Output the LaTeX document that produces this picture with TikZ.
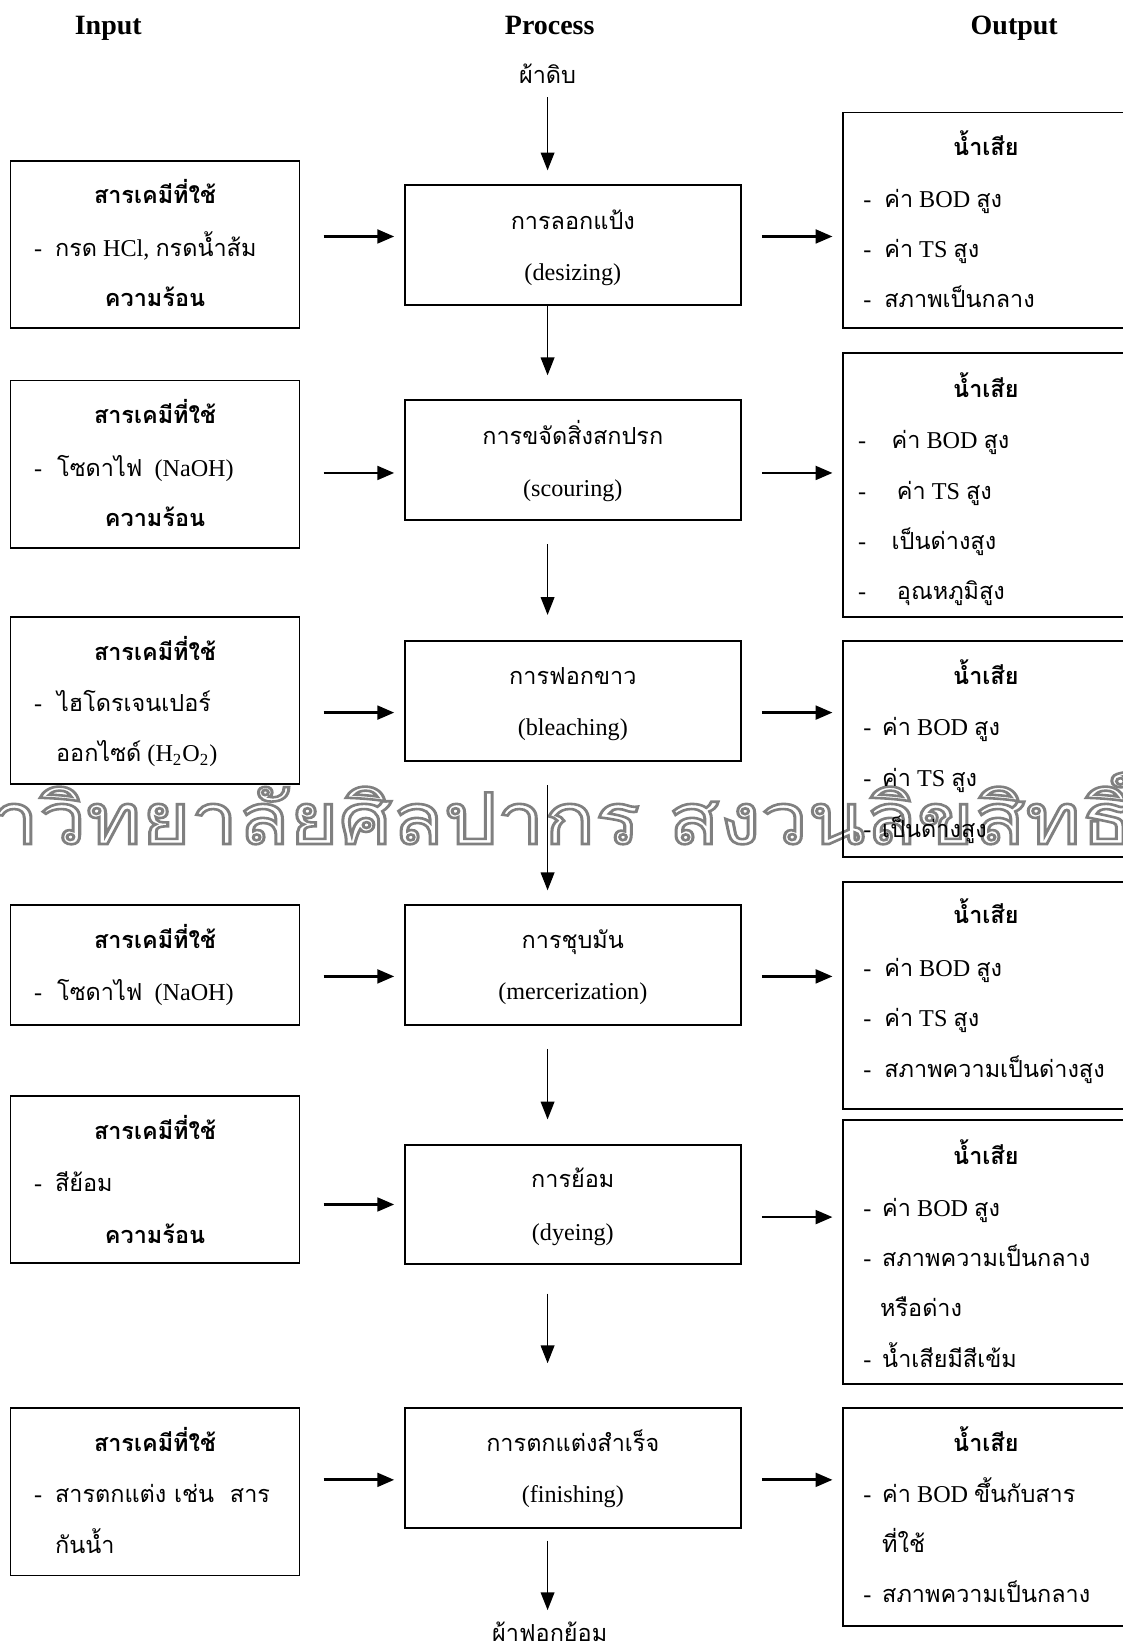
\documentclass[tikz,border=0pt]{standalone}
\usepackage{fontspec}
\setmainfont{Liberation Serif}
\newfontfamily\thai[Script=Thai,Scale=0.97]{Loma}
\newcommand\T[1]{{\thai #1}}
\newcommand\bul[1][10pt]{\makebox[#1][l]{-}}
\usetikzlibrary{arrows.meta}
\tikzset{
  box/.style={draw, line width=0.9pt, inner sep=0pt},
  lbox/.style={box, minimum width=137.5pt},
  mbox/.style={box, minimum width=160pt, minimum height=57pt},
  rbox/.style={box, minimum width=136pt},
  hd/.style={font=\fontsize{13.3}{16}\bfseries, anchor=base, inner sep=0pt},
  ctr/.style={font=\fontsize{11.5}{14}\selectfont, anchor=base, inner sep=0pt},
  ttl/.style={font=\fontsize{11.5}{14}\bfseries, anchor=base, inner sep=0pt},
  lft/.style={font=\fontsize{11.5}{14}\selectfont, anchor=base west, inner sep=0pt},
  varrow/.style={line width=0.8pt, -{Triangle[length=8.5pt,width=6.5pt]}},
  harrow/.style={line width=1.3pt, -{Triangle[length=8pt,width=6.5pt]}},
  wm/.style={inner sep=0pt, anchor=base},
}
\begin{document}
\begin{tikzpicture}[x=0.5pt,y=-0.5pt]
\useasboundingbox (0,0) rectangle (1068,1568);
% watermark
\node[wm] (wm) at (482,803) {\resizebox{595pt}{36pt}{{\thai\special{pdf:literal direct 1 Tr 0.35 w 0.5 G}มหาวิทยาลัยศิลปากร สงวนลิขสิทธิ์\special{pdf:literal direct 0 Tr 0 G}}}};

% headers
\node[hd] (hin) at (103,33) {Input};
\node[hd] (hpr) at (523,33) {Process};
\node[hd] (hout) at (965,33) {Output};
\node[ctr] (raw) at (521,79) {\T{ผ้าดิบ}};
\node[ctr] (fin) at (523,1562) {\T{ผ้าฟอกย้อม}};

% left boxes
\node[lbox, minimum height=79.5pt] (l1) at (147.5,232.5) {};
\node[lbox, minimum height=79.5pt] (l2) at (147.5,441.5) {};
\node[lbox, minimum height=79.5pt] (l3) at (147.5,666.5) {};
\node[lbox, minimum height=57pt] (l4) at (147.5,918) {};
\node[lbox, minimum height=79.5pt] (l5) at (147.5,1122.5) {};
\node[lbox, minimum height=79.5pt] (l6) at (147.5,1419.5) {};

% middle boxes
\node[mbox] (m1) at (545,233) {};
\node[mbox] (m2) at (545,438) {};
\node[mbox] (m3) at (545,667) {};
\node[mbox] (m4) at (545,918) {};
\node[mbox] (m5) at (545,1146) {};
\node[mbox] (m6) at (545,1397) {};

% right boxes
\node[rbox, minimum height=102.5pt] (r1) at (938,209.5) {};
\node[rbox, minimum height=125.5pt] (r2) at (938,461.5) {};
\node[rbox, minimum height=102.5pt] (r3) at (938,712.5) {};
\node[rbox, minimum height=108pt] (r4) at (938,947) {};
\node[rbox, minimum height=125.5pt] (r5) at (938,1191.5) {};
\node[rbox, minimum height=103.5pt] (r6) at (938,1443.5) {};

% left texts
\node[ttl] (l1a) at (147.5,194) {\T{สารเคมีที่ใช้}};
\node[lft] (l1b) at (32,244) {\bul\T{กรด} HCl, \T{กรดน้ำส้ม}};
\node[ttl] (l1c) at (147.5,292) {\T{ความร้อน}};
\node[ttl] (l2a) at (147.5,403) {\T{สารเคมีที่ใช้}};
\node[lft] (l2b) at (32,453) {\bul[11pt]\T{โซดาไฟ}\ \ (NaOH)};
\node[ttl] (l2c) at (147.5,501) {\T{ความร้อน}};
\node[ttl] (l3a) at (147.5,628) {\T{สารเคมีที่ใช้}};
\node[lft] (l3b) at (32,677) {\bul[11pt]\T{ไฮโดรเจนเปอร์}};
\node[lft] (l3c) at (53,725) {\T{ออกไซด์} (H\textsubscript{2}O\textsubscript{2})};
\node[ttl] (l4a) at (147.5,902) {\T{สารเคมีที่ใช้}};
\node[lft] (l4b) at (32,952) {\bul[11pt]\T{โซดาไฟ}\ \ (NaOH)};
\node[ttl] (l5a) at (147.5,1084) {\T{สารเคมีที่ใช้}};
\node[lft] (l5b) at (32,1134) {\bul\T{สีย้อม}};
\node[ttl] (l5c) at (147.5,1183) {\T{ความร้อน}};
\node[ttl] (l6a) at (147.5,1381) {\T{สารเคมีที่ใช้}};
\node[lft] (l6b) at (32,1430) {\bul\T{สารตกแต่ง เช่น\ \ สาร}};
\node[lft] (l6c) at (52,1478) {\T{กันน้ำ}};

% middle texts
\node[ctr] (m1a) at (545,218) {\T{การลอกแป้ง}};
\node[ctr] (m1b) at (545,267) {(desizing)};
\node[ctr] (m2a) at (545,423) {\T{การขจัดสิ่งสกปรก}};
\node[ctr] (m2b) at (545,472) {(scouring)};
\node[ctr] (m3a) at (545,651) {\T{การฟอกขาว}};
\node[ctr] (m3b) at (545,700) {(bleaching)};
\node[ctr] (m4a) at (545,902) {\T{การชุบมัน}};
\node[ctr] (m4b) at (545,951) {(mercerization)};
\node[ctr] (m5a) at (545,1130) {\T{การย้อม}};
\node[ctr] (m5b) at (545,1180) {(dyeing)};
\node[ctr] (m6a) at (545,1381) {\T{การตกแต่งสำเร็จ}};
\node[ctr] (m6b) at (545,1430) {(finishing)};

% right texts
\node[ttl] (r1a) at (938,148) {\T{น้ำเสีย}};
\node[lft] (r1b) at (821,197) {\bul\T{ค่า} BOD \T{สูง}};
\node[lft] (r1c) at (821,245) {\bul\T{ค่า} TS \T{สูง}};
\node[lft] (r1d) at (821,293) {\bul\T{สภาพเป็นกลาง}};
\node[ttl] (r2a) at (938,378) {\T{น้ำเสีย}};
\node[lft] (r2b) at (816,427) {\bul[16pt]\T{ค่า} BOD \T{สูง}};
\node[lft] (r2c) at (816,475) {\bul[18.5pt]\T{ค่า} TS \T{สูง}};
\node[lft] (r2d) at (816,523) {\bul[16pt]\T{เป็นด่างสูง}};
\node[lft] (r2e) at (816,570) {\bul[18.5pt]\T{อุณหภูมิสูง}};
\node[ttl] (r3a) at (938,651) {\T{น้ำเสีย}};
\node[lft] (r3b) at (821,700) {\bul[9pt]\T{ค่า} BOD \T{สูง}};
\node[lft] (r3c) at (821,748) {\bul[9pt]\T{ค่า} TS \T{สูง}};
\node[lft] (r3d) at (821,797) {\bul[9pt]\T{เป็นด่างสูง}};
\node[ttl] (r4a) at (938,879) {\T{น้ำเสีย}};
\node[lft] (r4b) at (821,929) {\bul\T{ค่า} BOD \T{สูง}};
\node[lft] (r4c) at (821,977) {\bul\T{ค่า} TS \T{สูง}};
\node[lft] (r4d) at (821,1025) {\bul\T{สภาพความเป็นด่างสูง}};
\node[ttl] (r5a) at (938,1108) {\T{น้ำเสีย}};
\node[lft] (r5b) at (821,1157) {\bul[9pt]\T{ค่า} BOD \T{สูง}};
\node[lft] (r5c) at (821,1205) {\bul[9pt]\T{สภาพความเป็นกลาง}};
\node[lft] (r5d) at (837,1253) {\T{หรือด่าง}};
\node[lft] (r5e) at (821,1301) {\bul[9pt]\T{น้ำเสียมีสีเข้ม}};
\node[ttl] (r6a) at (938,1381) {\T{น้ำเสีย}};
\node[lft] (r6b) at (821,1430) {\bul[9pt]\T{ค่า} BOD \T{ขึ้นกับสาร}};
\node[lft] (r6c) at (839,1477) {\T{ที่ใช้}};
\node[lft] (r6d) at (821,1525) {\bul[9pt]\T{สภาพความเป็นกลาง}};

% vertical arrows
\draw[varrow, shorten <=11.5pt, shorten >=6.5pt] (raw.center) -- ([xshift=-12pt]m1.north);
\draw[varrow, shorten >=11.5pt] ([xshift=-12pt]m1.south) -- ([xshift=-12pt]m2.north);
\draw[varrow, shorten <=11pt, shorten >=12pt] ([xshift=-12pt]m2.south) -- ([xshift=-12pt]m3.north);
\draw[varrow, shorten <=11pt, shorten >=6.5pt] ([xshift=-12pt]m3.south) -- ([xshift=-12pt]m4.north);
\draw[varrow, shorten <=11pt, shorten >=11.5pt] ([xshift=-12pt]m4.south) -- ([xshift=-12pt]m5.north);
\draw[varrow, shorten <=13.5pt, shorten >=21pt] ([xshift=-12pt]m5.south) -- ([xshift=-12pt]m6.north);
\coordinate (fx) at (521,1555);
\draw[varrow, shorten <=5.5pt, shorten >=11.5pt] ([xshift=-12pt]m6.south) -- (fx);

% horizontal arrows
\coordinate (y1) at (0,225);
\coordinate (y2) at (0,450);
\coordinate (y3) at (0,678);
\coordinate (y4) at (0,929);
\coordinate (y5) at (0,1146);
\coordinate (y5r) at (0,1158);
\coordinate (y6) at (0,1408);
\foreach \i/\yl/\yr in {1/y1/y1,2/y2/y2,3/y3/y3,4/y4/y4,5/y5/y5r,6/y6/y6}{
  \draw[harrow, shorten <=11pt, shorten >=4.5pt] (l\i.east |- \yl) -- (m\i.west |- \yl);
  \draw[harrow, shorten <=9.5pt, shorten >=4.5pt] (m\i.east |- \yr) -- (r\i.west |- \yr);
}
\end{tikzpicture}
\end{document}
